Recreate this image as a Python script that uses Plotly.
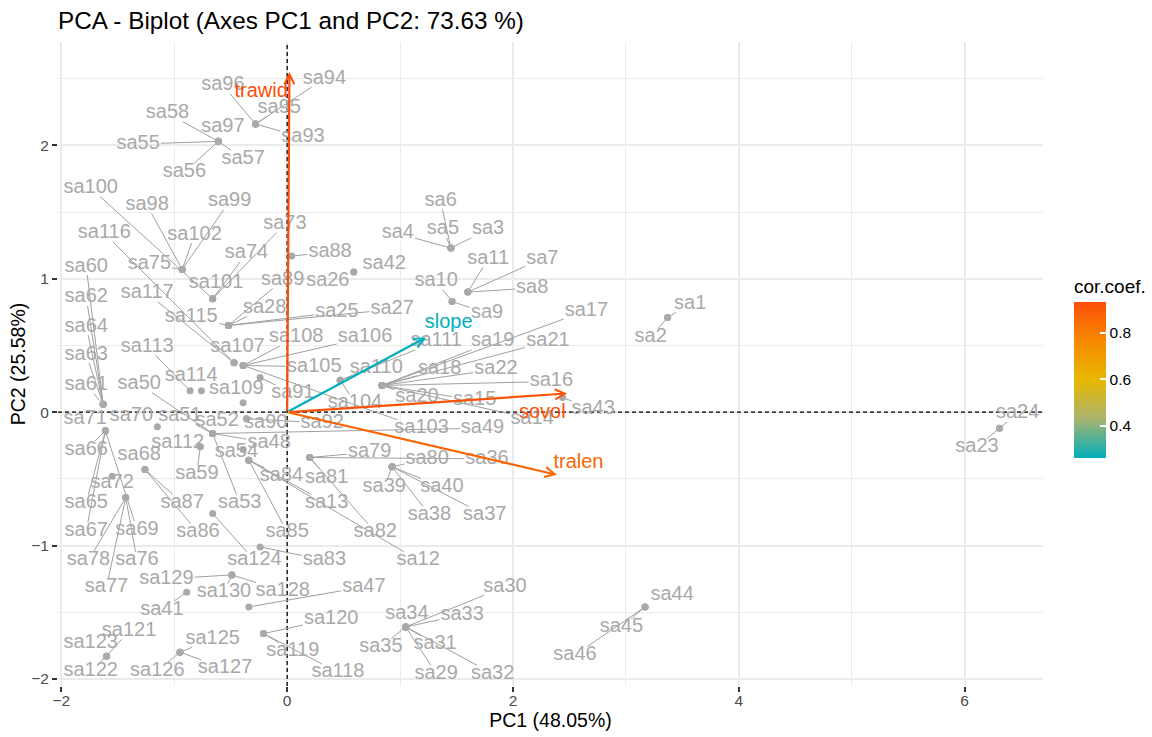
import plotly.graph_objects as go

FONT = "Liberation Sans, Arial, sans-serif"

# ---------------- data ----------------
samples = ["sa%d" % i for i in range(1, 131)]

pc1 = [3.37, 3.37, 1.45, 1.45, 1.45, 1.45, 1.60, 1.60, 1.46, 1.46,
       1.60, -0.34, -0.34, 0.84, 0.84, 0.84, 0.84, 0.84, 0.84, 0.84,
       0.84, 0.84, 6.31, 6.31, -0.52, 0.59, -0.52, -0.52, 1.05, 1.05,
       1.05, 1.05, 1.05, 1.05, 1.05, 0.20, 0.93, 0.93, 0.93, 0.93,
       -0.89, 0.59, 2.44, 3.17, 3.17, 3.17, -0.34, -0.66, -0.66, -0.66,
       -0.66, -0.66, -0.66, -0.39, -0.61, -0.61, -0.61, -0.61, -0.77, -1.63,
       -1.63, -1.63, -1.63, -1.63, -1.61, -1.61, -1.61, -1.26, -1.61, -1.15,
       -1.61, -1.55, -0.66, -0.66, -0.93, -1.43, -1.43, -1.43, 0.20, 0.93,
       0.20, 0.20, -0.24, -0.34, -0.34, -1.26, -1.26, 0.04, -0.52, -0.36,
       -0.24, -0.36, -0.28, -0.28, -0.28, -0.28, -0.61, -0.93, -0.93, -0.66,
       -0.66, -0.93, -0.39, 0.47, -0.39, -0.39, -0.47, -0.39, -0.39, 0.47,
       0.47, -0.77, -0.86, -0.76, -0.52, -0.47, -0.47, -0.21, -0.21, -0.21,
       -1.60, -1.60, -1.60, -0.66, -0.95, -0.95, -0.95, -0.49, -0.49, -0.49]

pc2 = [0.71, 0.71, 1.23, 1.23, 1.23, 1.23, 0.90, 0.90, 0.83, 0.83,
       0.90, -0.36, -0.36, 0.20, 0.20, 0.20, 0.20, 0.20, 0.20, 0.20,
       0.20, 0.20, -0.12, -0.12, 0.65, 1.05, 0.65, 0.65, -1.61, -1.61,
       -1.61, -1.61, -1.61, -1.61, -1.61, -0.34, -0.41, -0.41, -0.41, -0.41,
       -1.35, 1.05, 0.11, -1.46, -1.46, -1.46, -1.46, -0.16, -0.16, -0.16,
       -0.16, -0.16, -0.16, -0.28, 2.03, 2.03, 2.03, 2.03, -0.26, 0.06,
       0.06, 0.06, 0.06, 0.06, -0.14, -0.14, -0.14, -0.43, -0.14, -0.11,
       -0.14, -0.48, 0.85, 0.85, 1.07, -0.64, -0.64, -0.64, -0.34, -0.41,
       -0.34, -0.34, -1.01, -0.36, -0.36, -0.43, -0.43, 1.17, 0.65, -0.05,
       0.26, -0.05, 2.16, 2.16, 2.16, 2.16, 2.03, 1.07, 1.07, 0.85,
       0.85, 1.07, 0.35, 0.24, 0.35, 0.35, 0.37, 0.35, 0.07, 0.24,
       0.24, -0.26, 0.16, 0.16, 0.65, 0.37, 0.37, -1.66, -1.66, -1.66,
       -1.83, -1.83, -1.83, -0.76, -1.80, -1.80, -1.80, -1.22, -1.22, -1.22]

# repelled label anchor (data units) for each sample
label_x = [3.57, 3.22, 1.78, 0.98, 1.38, 1.36, 2.26, 2.17, 1.77, 1.32,
           1.78, 1.16, 0.35, 2.17, 1.66, 2.34, 2.65, 1.35, 1.82, 1.15,
           2.31, 1.85, 6.11, 6.47, 0.44, 0.36, 0.93, -0.20, 1.32, 1.93,
           1.31, 1.82, 1.55, 1.06, 0.83, 1.77, 1.75, 1.26, 0.86, 1.37,
           -1.11, 0.86, 2.71, 3.41, 2.96, 2.55, 0.68, -0.16, 1.73, -1.31,
           -0.95, -0.62, -0.42, -0.45, -1.32, -0.91, -0.39, -1.06, -0.80, -1.78,
           -1.78, -1.78, -1.78, -1.78, -1.78, -1.78, -1.78, -1.31, -1.33, -1.38,
           -1.79, -1.55, -0.02, -0.36, -1.22, -1.33, -1.60, -1.76, 0.73, 1.24,
           0.35, 0.78, 0.33, -0.05, 0.00, -0.79, -0.93, 0.38, -0.04, -0.19,
           0.05, 0.31, 0.14, 0.33, -0.07, -0.57, -0.57, -1.24, -0.51, -1.74,
           -0.63, -0.82, 1.19, 0.60, 0.24, 0.69, -0.44, 0.08, -0.45, 0.79,
           1.32, -0.97, -1.24, -0.85, -0.85, -1.62, -1.24, 0.45, 0.05, 0.39,
           -1.40, -1.74, -1.74, -0.29, -0.66, -1.15, -0.55, -0.04, -1.07, -0.56]

label_y = [0.81, 0.56, 1.37, 1.34, 1.37, 1.58, 1.15, 0.93, 0.74, 0.98,
           1.15, -1.11, -0.68, -0.05, 0.09, 0.23, 0.76, 0.32, 0.53, 0.11,
           0.53, 0.32, -0.26, -0.01, 0.75, 0.98, 0.77, 0.78, -1.96, -1.31,
           -1.74, -1.96, -1.52, -1.51, -1.76, -0.35, -0.77, -0.77, -0.56, -0.56,
           -1.48, 1.11, 0.02, -1.37, -1.61, -1.82, -1.31, -0.23, -0.12, 0.21,
           -0.03, -0.07, -0.68, -0.30, 2.01, 1.80, 1.90, 2.24, -0.46, 1.09,
           0.20, 0.86, 0.43, 0.64, -0.68, -0.28, -0.89, -0.32, -0.88, -0.03,
           -0.05, -0.53, 1.41, 1.19, 1.11, -1.11, -1.31, -1.11, -0.30, -0.35,
           -0.49, -0.90, -1.11, -0.48, -0.90, -0.90, -0.68, 1.20, 0.99, -0.08,
           0.14, -0.08, 2.06, 2.50, 2.28, 2.45, 2.14, 1.55, 1.58, 1.68,
           0.97, 1.33, -0.12, 0.07, 0.34, 0.56, 0.49, 0.56, 0.17, 0.33,
           0.53, -0.23, 0.49, 0.27, 0.71, 1.34, 0.89, -1.95, -1.79, -1.55,
           -1.64, -1.94, -1.73, -1.11, -1.70, -1.94, -1.92, -1.34, -1.25, -1.35]

variables = ["slope", "sovol", "trawid", "tralen"]
var_pc1 = [1.23, 2.48, 0.02, 2.39]
var_pc2 = [0.56, 0.14, 2.55, -0.47]
var_cor = [0.262, 0.92, 0.933, 0.87]
var_label_x = [1.43, 2.26, -0.23, 2.58]
var_label_y = [0.67, -0.01, 2.40, -0.38]

# ---------------- styling / geometry ----------------
W, H = 1152, 737
ML, MR, MT, MB = 58, 109, 42, 51
XR = [-2.03, 6.695]
YR = [-2.053, 2.775]
SX = (W - ML - MR) / (XR[1] - XR[0])
SY = (H - MT - MB) / (YR[1] - YR[0])
FS = 20
IND_COL = "#A9A9A9"

CS_STOPS = [(0.0, "#00AFBB"), (0.25, "#A9B36F"), (0.5, "#E7B800"),
            (0.75, "#F78A00"), (1.0, "#FC4E07")]


def hex2rgb(h):
    h = h.lstrip("#")
    return [int(h[i:i + 2], 16) for i in (0, 2, 4)]


def cs_color(t):
    t = max(0.0, min(1.0, t))
    for (t0, c0), (t1, c1) in zip(CS_STOPS[:-1], CS_STOPS[1:]):
        if t <= t1:
            f = (t - t0) / (t1 - t0) if t1 > t0 else 0
            a, b = hex2rgb(c0), hex2rgb(c1)
            return "rgb(%d,%d,%d)" % tuple(round(a[k] + f * (b[k] - a[k])) for k in range(3))
    return CS_STOPS[-1][1]


CW = {"s": 0.5, "a": 0.556}


def text_w(s):
    return sum(CW.get(c, 0.556) for c in s) * FS


# leader segments (point -> edge of label box)
seg_x, seg_y = [], []
for name, px, py, lx, ly in zip(samples, pc1, pc2, label_x, label_y):
    dx = (px - lx) * SX
    dy = (py - ly) * SY
    hw = text_w(name) / 2 + 1
    hh = FS * 0.42
    if abs(dx) <= hw and abs(dy) <= hh:
        continue
    fx = hw / abs(dx) if dx != 0 else 1e9
    fy = hh / abs(dy) if dy != 0 else 1e9
    f = min(fx, fy)
    length = (1 - f) * (dx ** 2 + dy ** 2) ** 0.5
    if length < 9:
        continue
    ex = lx + f * (px - lx)
    ey = ly + f * (py - ly)
    seg_x += [px, ex, None]
    seg_y += [py, ey, None]

fig = go.Figure()

# dashed reference lines at 0
fig.add_trace(go.Scatter(x=[0, 0], y=YR, mode="lines", hoverinfo="skip",
                         line=dict(color="black", width=1.3, dash="4px,3px")))
fig.add_trace(go.Scatter(x=XR, y=[0, 0], mode="lines", hoverinfo="skip",
                         line=dict(color="black", width=1.3, dash="4px,3px")))

fig.add_trace(go.Scatter(x=seg_x, y=seg_y, mode="lines",
                         line=dict(color="#A0A0A0", width=1),
                         hoverinfo="skip"))
fig.add_trace(go.Scatter(x=pc1, y=pc2, mode="markers",
                         marker=dict(color=IND_COL, size=7),
                         text=samples, hoverinfo="text"))
fig.add_trace(go.Scatter(x=label_x, y=label_y, mode="text", text=samples,
                         textposition="middle center",
                         textfont=dict(family=FONT, size=FS, color=IND_COL),
                         hoverinfo="skip"))

cmin, cmax = min(var_cor), max(var_cor)
var_cols = [cs_color((c - cmin) / (cmax - cmin)) for c in var_cor]

fig.add_trace(go.Scatter(x=var_label_x, y=var_label_y, mode="text", text=variables,
                         textposition="middle center",
                         textfont=dict(family=FONT, size=FS, color=var_cols),
                         hoverinfo="skip"))

# colourbar carrier (bar 302..458 px, title above it)
CB_TOP, CB_BOTTOM = 276, 458
fig.add_trace(go.Scatter(
    x=var_pc1, y=var_pc2, mode="markers", hoverinfo="skip",
    marker=dict(size=1, opacity=0, color=var_cor,
                colorscale=[[t, c] for t, c in CS_STOPS],
                cmin=cmin, cmax=cmax, showscale=True,
                colorbar=dict(
                    title=dict(text="cor.coef.", side="top",
                               font=dict(family=FONT, size=19, color="black")),
                    x=(1074 - ML) / (W - ML - MR), xanchor="left", xpad=0,
                    y=(H - MB - (CB_TOP + CB_BOTTOM) / 2) / (H - MT - MB),
                    yanchor="middle", ypad=0,
                    thickness=32, thicknessmode="pixels",
                    len=CB_BOTTOM - CB_TOP, lenmode="pixels",
                    outlinewidth=0,
                    tickvals=[0.4, 0.6, 0.8], ticktext=["0.4", "0.6", "0.8"],
                    ticks="inside", ticklen=6, tickcolor="white", tickwidth=1.5,
                    tickfont=dict(family=FONT, size=15.5, color="black"),
                ))))

annotations = []
for vx, vy, col in zip(var_pc1, var_pc2, var_cols):
    annotations.append(dict(x=vx, y=vy, ax=0, ay=0, xref="x", yref="y",
                            axref="x", ayref="y", text="", showarrow=True,
                            arrowhead=5, arrowsize=0.9, arrowwidth=2.2,
                            arrowcolor=col, standoff=0))

axis_common = dict(showgrid=True, gridcolor="#EBEBEB", gridwidth=1.6,
                   zeroline=False, showline=False, ticks="outside", ticklen=5,
                   tickwidth=1.5, tickcolor="#333333",
                   tickfont=dict(family=FONT, size=15.5, color="#4D4D4D"))

fig.update_layout(
    width=W, height=H,
    margin=dict(l=ML, r=MR, t=MT, b=MB, autoexpand=False),
    plot_bgcolor="white", paper_bgcolor="white",
    showlegend=False,
    title=dict(text="PCA - Biplot (Axes PC1 and PC2: 73.63 %)",
               x=0, xref="paper", xanchor="left",
               y=1 - 20 / H, yref="container", yanchor="middle",
               font=dict(family=FONT, size=24.3, color="black")),
    xaxis=dict(range=XR, tick0=0, dtick=2, ticklabelstandoff=-5,
               minor=dict(tick0=0, dtick=1, showgrid=True, gridcolor="#EBEBEB",
                          gridwidth=0.8, ticks=""),
               title=dict(text="PC1 (48.05%)", standoff=4,
                          font=dict(family=FONT, size=19.5, color="black")),
               **axis_common),
    yaxis=dict(range=YR, tick0=0, dtick=1,
               minor=dict(tick0=0, dtick=0.5, showgrid=True, gridcolor="#EBEBEB",
                          gridwidth=0.8, ticks=""),
               title=dict(text="PC2 (25.58%)", standoff=0,
                          font=dict(family=FONT, size=19.5, color="black")),
               **axis_common),
    annotations=annotations,
)

fig.write_html("out.html",
               config={"displayModeBar": False},
               post_script="document.body.style.margin='0';"
                           "document.body.style.overflow='hidden';")
